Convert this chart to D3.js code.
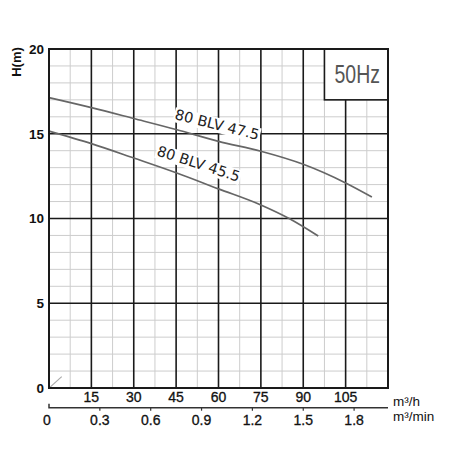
<!DOCTYPE html>
<html>
<head>
<meta charset="utf-8">
<script src="https://cdn.jsdelivr.net/npm/d3@7"></script>
<style>
  body { margin: 0; background: #fff; }
  svg { display: block; }
  text { font-family: "Liberation Sans", Arial, sans-serif; fill: #111; }
</style>
</head>
<body>
<div id="chart"></div>
<script>
// flow in m3/h, head in m
const flowTicks = [15, 30, 45, 60, 75, 90, 105];
const flowMinTicks = [0, 0.3, 0.6, 0.9, 1.2, 1.5, 1.8];
const headTicks = [0, 5, 10, 15, 20];

const flow475 = [0, 15, 30, 45, 60, 75, 90, 105, 114.3];
const head475 = [17.13, 16.54, 15.9, 15.25, 14.55, 13.97, 13.2, 12.1, 11.27];
const flow455 = [0, 15, 30, 45, 60, 75, 85, 95.3];
const head455 = [15.16, 14.42, 13.57, 12.7, 11.75, 10.8, 10.0, 8.97];

const curveNames = ['80 BLV 47.5', '80 BLV 45.5'];
// label anchor (flow, head) and angle
const labelFlow = [59.1, 52.4];
const labelHead = [15.25, 12.95];
const labelAngle = [14, 18];

const originFlow = [0.4, 4.5];
const originHead = [0.05, 0.67];

const margin = {top: 49, right: 62, bottom: 62, left: 49},
    width = 450 - margin.left - margin.right,
    height = 450 - margin.top - margin.bottom;

const svg = d3.select('#chart')
    .append('svg')
    .attr('width', 450)
    .attr('height', 450);

const g = svg.append('g')
    .attr('transform', 'translate(' + margin.left + ',' + margin.top + ')');

const x = d3.scaleLinear().domain([0, 120]).range([0, width]);
const xMin = d3.scaleLinear().domain([0, 2]).range([0, width]);
const y = d3.scaleLinear().domain([0, 20]).range([height, 0]);

// minor grid
g.append('g')
    .selectAll('line')
    .data(d3.range(7.5, 120, 15))
    .enter()
    .append('line')
    .attr('x1', d => x(d)).attr('x2', d => x(d))
    .attr('y1', 0).attr('y2', height)
    .attr('stroke', '#cdcdcd').attr('stroke-width', 1);
g.append('g')
    .selectAll('line')
    .data(d3.range(1, 20).filter(d => d % 5 !== 0))
    .enter()
    .append('line')
    .attr('x1', 0).attr('x2', width)
    .attr('y1', d => y(d)).attr('y2', d => y(d))
    .attr('stroke', '#cdcdcd').attr('stroke-width', 1);

// major grid
g.append('g')
    .selectAll('line')
    .data(flowTicks)
    .enter()
    .append('line')
    .attr('x1', d => x(d)).attr('x2', d => x(d))
    .attr('y1', 0).attr('y2', height)
    .attr('stroke', '#1a1a1a').attr('stroke-width', 1.6);
g.append('g')
    .selectAll('line')
    .data(headTicks.filter(d => d > 0 && d < 20))
    .enter()
    .append('line')
    .attr('x1', 0).attr('x2', width)
    .attr('y1', d => y(d)).attr('y2', d => y(d))
    .attr('stroke', '#1a1a1a').attr('stroke-width', 1.6);

// 50Hz box
g.append('rect')
    .attr('x', x(97.5)).attr('y', y(20))
    .attr('width', x(120) - x(97.5)).attr('height', y(17) - y(20))
    .attr('fill', '#fff').attr('stroke', '#1a1a1a').attr('stroke-width', 1.6);
g.append('text')
    .attr('transform', 'translate(' + ((x(97.5) + x(120)) / 2 + 1) + ',' + (y(18.5) + 9) + ') scale(0.78,1)')
    .attr('text-anchor', 'middle')
    .style('font-size', '25px')
    .style('fill', '#555')
    .text('50Hz');

// curves
const line = d3.line()
    .x(d => x(d[0]))
    .y(d => y(d[1]))
    .curve(d3.curveMonotoneX);

const series = [
    d3.zip(flow475, head475),
    d3.zip(flow455, head455),
];

// labels with a white box behind, drawn before the curves
curveNames.forEach((name, i) => {
    const lg = g.append('g')
        .attr('transform', 'translate(' + x(labelFlow[i]) + ',' + y(labelHead[i]) + ') rotate(' + labelAngle[i] + ')');
    const bg = lg.append('rect').attr('fill', '#fff');
    const t = lg.append('text')
        .attr('text-anchor', 'middle')
        .style('font-family', '"DejaVu Sans", sans-serif')
        .style('font-size', '14.5px')
        .style('fill', '#222')
        .text(name);
    const bb = t.node().getBBox();
    bg.attr('x', bb.x - 1).attr('y', bb.y + 1)
        .attr('width', bb.width + 2).attr('height', bb.height - 1);
});

g.selectAll('path.curve')
    .data(series)
    .enter()
    .append('path')
    .attr('class', 'curve')
    .attr('d', d => line(d))
    .attr('fill', 'none')
    .attr('stroke', '#666')
    .attr('stroke-width', 1.7);

g.append('path')
    .attr('d', d3.line().x(d => x(d[0])).y(d => y(d[1]))(d3.zip(originFlow, originHead)))
    .attr('stroke', '#aaa').attr('stroke-width', 1.2).attr('fill', 'none');

// frame
g.append('rect')
    .attr('width', width).attr('height', height)
    .attr('fill', 'none').attr('stroke', '#1a1a1a').attr('stroke-width', 2);

// y labels
g.selectAll('text.ytick')
    .data(headTicks)
    .enter()
    .append('text')
    .attr('class', 'ytick')
    .attr('x', -5)
    .attr('y', d => y(d) + 4.8)
    .attr('text-anchor', 'end')
    .style('font-size', '13.5px')
    .style('font-weight', 'bold')
    .text(d => d);

svg.append('text')
    .attr('transform', 'translate(21,62) rotate(-90)')
    .attr('text-anchor', 'middle')
    .style('font-size', '13px')
    .style('font-weight', 'bold')
    .text('H(m)');

// x labels m3/h
g.selectAll('text.xtick')
    .data(flowTicks)
    .enter()
    .append('text')
    .attr('class', 'xtick')
    .attr('x', d => x(d))
    .attr('y', height + 14)
    .attr('text-anchor', 'middle')
    .style('font-size', '14px')
    .style('stroke', '#111')
    .style('stroke-width', 0.3)
    .text(d => d);

// second axis m3/min
const axisY = height + 19.7;
g.append('path')
    .attr('d', 'M0,' + (axisY - 4) + 'V' + axisY + 'H' + width)
    .attr('fill', 'none').attr('stroke', '#333').attr('stroke-width', 1.5);
g.selectAll('line.mtick')
    .data(flowMinTicks.filter(d => d > 0))
    .enter()
    .append('line')
    .attr('class', 'mtick')
    .attr('x1', d => xMin(d)).attr('x2', d => xMin(d))
    .attr('y1', axisY).attr('y2', axisY + 3)
    .attr('stroke', '#333').attr('stroke-width', 1.2);
g.selectAll('text.mlabel')
    .data(flowMinTicks)
    .enter()
    .append('text')
    .attr('class', 'mlabel')
    .attr('x', d => xMin(d) - (d === 0 ? 2 : 0))
    .attr('y', height + 36.5)
    .attr('text-anchor', 'middle')
    .style('font-size', '14px')
    .style('stroke', '#111')
    .style('stroke-width', 0.3)
    .text(d => d);

g.append('text')
    .attr('x', width + 5).attr('y', height + 18)
    .style('font-size', '13.5px')
    .text('m³/h');
g.append('text')
    .attr('x', width + 5).attr('y', height + 33)
    .style('font-size', '13.5px')
    .text('m³/min');
</script>
</body>
</html>
